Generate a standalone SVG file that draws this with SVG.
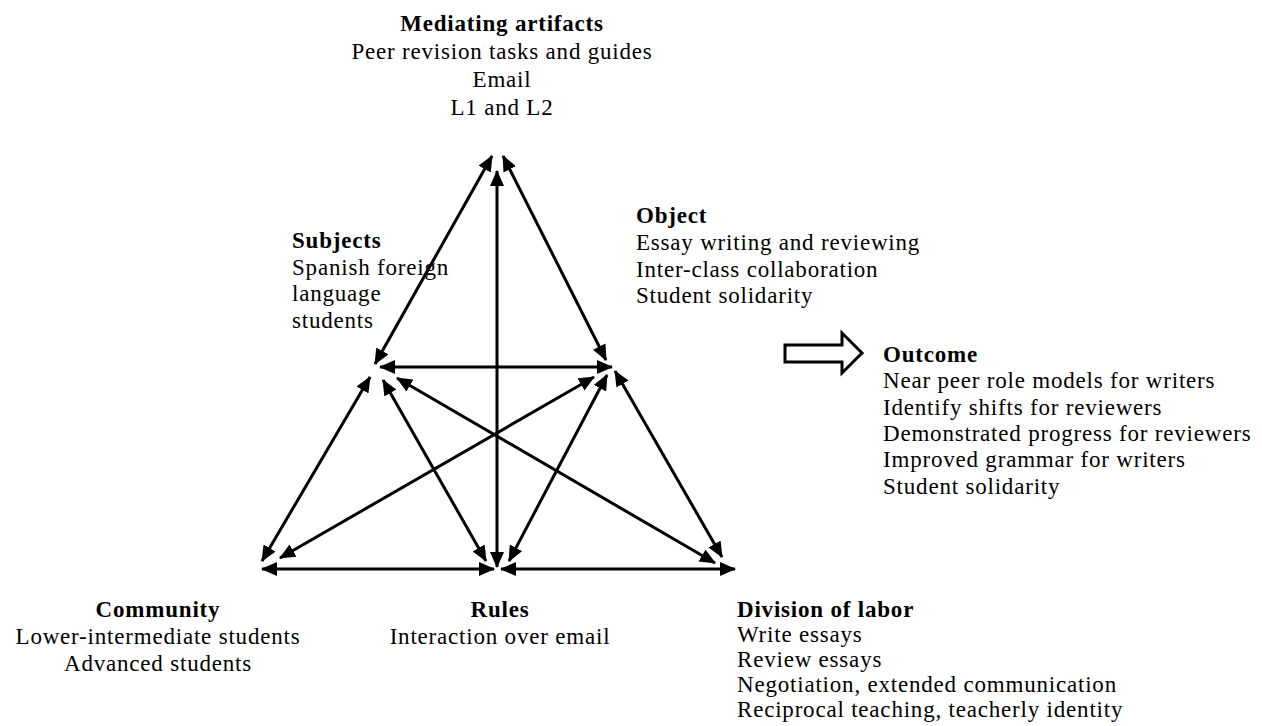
<svg xmlns="http://www.w3.org/2000/svg" width="1262" height="726" viewBox="0 0 1262 726">
  <style>
    text { font-family: "Liberation Serif", "Times New Roman", serif; font-size: 23px; letter-spacing: 0.8px; fill: #000; }
    .h { font-weight: bold; }
    .c { text-anchor: middle; }
    .link { stroke: #000; stroke-width: 3; fill: none; marker-start: url(#head); marker-end: url(#head); }
  </style>
  <defs>
    <marker id="head" markerUnits="userSpaceOnUse" markerWidth="16" markerHeight="14" refX="15" refY="7" orient="auto-start-reverse">
      <path d="M0,0 L16,7 L0,14 z" fill="#000"/>
    </marker>
  </defs>
  <rect width="1262" height="726" fill="#fff"/>

  <!-- double-headed links between the six activity-system components -->
  <g id="connectors">
    <line class="link" x1="492" y1="156" x2="375" y2="364"/>
    <line class="link" x1="503" y1="156" x2="606" y2="360"/>
    <line class="link" x1="497" y1="171" x2="497" y2="567"/>
    <line class="link" x1="380" y1="367" x2="612" y2="367"/>
    <line class="link" x1="370" y1="377" x2="262" y2="561"/>
    <line class="link" x1="383" y1="380" x2="486" y2="561"/>
    <line class="link" x1="397" y1="378" x2="715" y2="563"/>
    <line class="link" x1="594" y1="377" x2="280" y2="558"/>
    <line class="link" x1="607" y1="375" x2="509" y2="561"/>
    <line class="link" x1="615" y1="371" x2="722" y2="557"/>
    <line class="link" x1="262" y1="569" x2="494" y2="569"/>
    <line class="link" x1="501" y1="569" x2="735" y2="569"/>
  </g>

  <!-- hollow arrow pointing to the outcome -->
  <g id="outcome-arrow">
    <path d="M785,345 L842,345 L842,333 L862,353 L842,373 L842,362 L785,362 z" fill="#fff" stroke="#000" stroke-width="3" stroke-linejoin="miter"/>
  </g>

  <g id="mediating-artifacts">
    <text class="h c" x="502" y="31">Mediating artifacts</text>
    <text class="c" x="502" y="59">Peer revision tasks and guides</text>
    <text class="c" x="502" y="87">Email</text>
    <text class="c" x="502" y="115">L1 and L2</text>
  </g>

  <g id="object">
    <text class="h" x="636" y="223">Object</text>
    <text x="636" y="250">Essay writing and reviewing</text>
    <text x="636" y="277">Inter-class collaboration</text>
    <text x="636" y="303">Student solidarity</text>
  </g>

  <g id="subjects">
    <text class="h" x="292" y="248">Subjects</text>
    <text x="292" y="275">Spanish foreign</text>
    <text x="292" y="301">language</text>
    <text x="292" y="328">students</text>
  </g>

  <g id="outcome">
    <text class="h" x="883" y="362">Outcome</text>
    <text x="883" y="388">Near peer role models for writers</text>
    <text x="883" y="415">Identify shifts for reviewers</text>
    <text x="883" y="441">Demonstrated progress for reviewers</text>
    <text x="883" y="467">Improved grammar for writers</text>
    <text x="883" y="494">Student solidarity</text>
  </g>

  <g id="community">
    <text class="h c" x="158" y="617">Community</text>
    <text class="c" x="158" y="644">Lower-intermediate students</text>
    <text class="c" x="158" y="671">Advanced students</text>
  </g>

  <g id="rules">
    <text class="h c" x="500" y="617">Rules</text>
    <text class="c" x="500" y="644">Interaction over email</text>
  </g>

  <g id="division-of-labor">
    <text class="h" x="737" y="617">Division of labor</text>
    <text x="737" y="642">Write essays</text>
    <text x="737" y="667">Review essays</text>
    <text x="737" y="692">Negotiation, extended communication</text>
    <text x="737" y="717">Reciprocal teaching, teacherly identity</text>
  </g>
</svg>
